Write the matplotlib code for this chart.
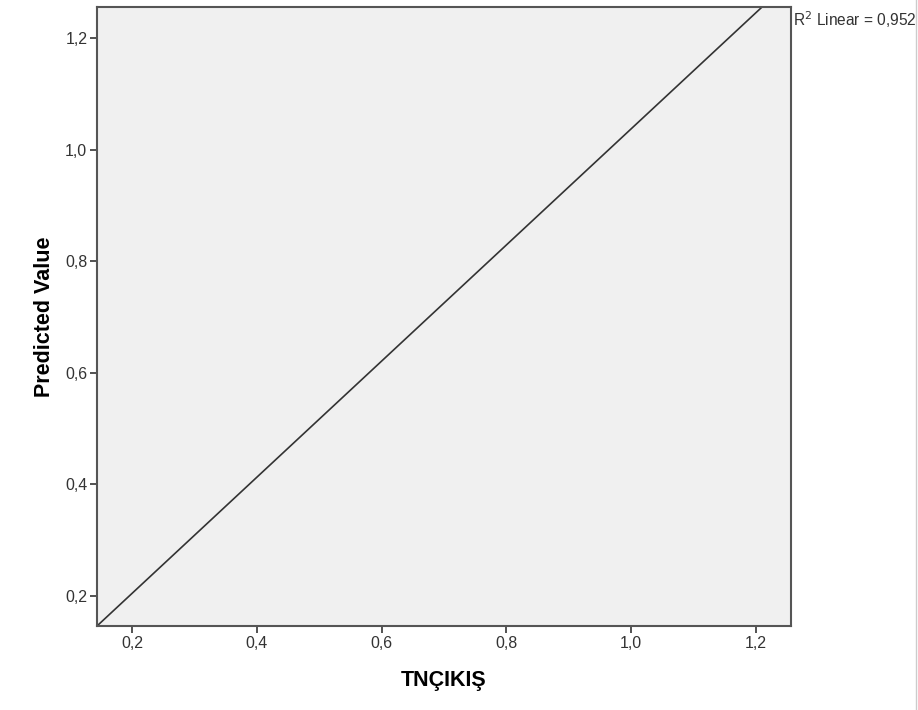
import numpy as np
import matplotlib.pyplot as plt
from matplotlib.lines import Line2D

# fit line endpoints
fit_x = [0.144, 1.210]
fit_y = [0.146, 1.256]
x_ticks = [0.2, 0.4, 0.6, 0.8, 1.0, 1.2]
y_ticks = [0.2, 0.4, 0.6, 0.8, 1.0, 1.2]
r2 = 0.952

plt.rcParams['font.family'] = ['Liberation Sans', 'DejaVu Sans']

fig = plt.figure(figsize=(9.18, 7.10), dpi=100)
ax = fig.add_axes([97/918, 1 - 626/710, (791-97)/918, (626-7)/710])
ax.set_facecolor('#f0f0f0')

ax.plot(fit_x, fit_y, color='#333333', linewidth=1.2, solid_capstyle='butt')

ax.set_xlim(0.144, 1.256)
ax.set_ylim(0.146, 1.2556)
ax.set_xticks(x_ticks)
ax.set_yticks(y_ticks)
fmt = lambda v: ('%.1f' % v).replace('.', ',')
ax.set_xticklabels([fmt(v) for v in x_ticks])
ax.set_yticklabels([fmt(v) for v in y_ticks])
ax.tick_params(direction='out', length=5, width=1.3, colors='#444444',
               labelsize=11.5, labelcolor='#333333', pad=2)
for s in ax.spines.values():
    s.set_color('#555555')
    s.set_linewidth(1.5)

ax.set_xlabel('TNÇIKIŞ', fontsize=15.5, fontweight='bold', labelpad=14)
ax.set_ylabel('Predicted Value', fontsize=15.5, fontweight='bold', labelpad=7)

fig.text(793/918, 1 - 20/710, 'R$^2$ Linear = ' + ('%.3f' % r2).replace('.', ','),
         fontsize=11.2, color='#333333', ha='left', va='center')

# right image border
fig.add_artist(Line2D([916/918, 916/918], [0, 1], color='#cccccc', linewidth=1,
                      transform=fig.transFigure))

fig.savefig('out.png', dpi=100)
